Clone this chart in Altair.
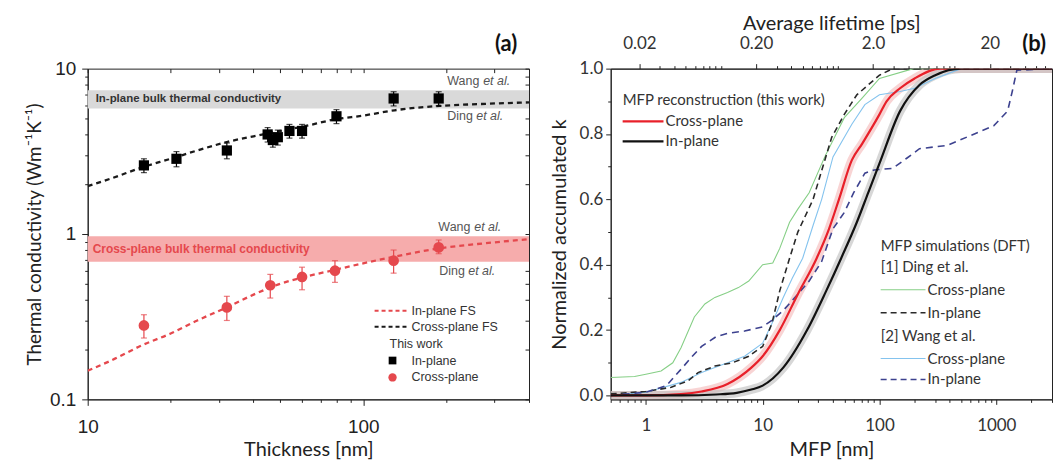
import altair as alt
import pandas as pd

# ---------------- Panel (a) data ----------------
thick_in = [16, 21, 32, 45, 47, 49, 54, 60, 80, 129, 188]
k_in = [2.6, 2.85, 3.2, 4.0, 3.7, 3.85, 4.2, 4.2, 5.15, 6.6, 6.6]
k_in_lo = [2.35, 2.55, 2.85, 3.6, 3.35, 3.45, 3.8, 3.8, 4.65, 5.95, 5.95]
k_in_hi = [2.85, 3.15, 3.55, 4.4, 4.05, 4.25, 4.6, 4.6, 5.65, 7.25, 7.25]

thick_cr = [16, 32, 46, 60, 79, 129, 188]
k_cr = [0.28, 0.36, 0.49, 0.55, 0.60, 0.69, 0.83]
k_cr_lo = [0.235, 0.30, 0.41, 0.46, 0.51, 0.58, 0.76]
k_cr_hi = [0.325, 0.42, 0.57, 0.63, 0.69, 0.80, 0.92]

fs_x = [10, 12, 16, 20, 25, 32, 40, 50, 60, 80, 100, 130, 190, 260, 400]
fs_black = [1.95, 2.15, 2.55, 2.85, 3.2, 3.6, 3.9, 4.2, 4.45, 4.95, 5.2, 5.6, 5.95, 6.1, 6.25]
fs_red = [0.149, 0.17, 0.215, 0.25, 0.3, 0.36, 0.43, 0.5, 0.545, 0.61, 0.665, 0.73, 0.82, 0.87, 0.93]

band_in = [5.75, 7.4]
band_cr = [0.68, 0.97]

# ---------------- Panel (b) data ----------------
mfp_red = [0.5, 1, 2, 3, 5, 8, 10, 14, 20, 29, 37, 45, 58, 71, 100, 115, 150, 200, 330, 3000]
k_red = [0.0, 0.0, 0.004, 0.012, 0.035, 0.085, 0.12, 0.2, 0.31, 0.42, 0.51, 0.6, 0.72, 0.77, 0.86, 0.9, 0.94, 0.97, 1.0, 1.0]

mfp_blk = [0.5, 2, 4, 6, 8, 10, 15, 24, 35, 47, 64, 80, 100, 150, 220, 300, 500, 3000]
k_blk = [0.0, 0.0, 0.003, 0.008, 0.018, 0.03, 0.085, 0.2, 0.32, 0.42, 0.53, 0.62, 0.71, 0.87, 0.95, 0.98, 1.0, 1.0]

mfp_dc = [0.5, 0.8, 1.0, 1.35, 1.7, 2.0, 2.6, 3.2, 3.9, 5, 6.2, 7.6, 10, 12.2, 14, 17, 20, 25, 34, 50, 71, 100, 195, 3000]
k_dc = [0.055, 0.058, 0.065, 0.075, 0.1, 0.146, 0.24, 0.28, 0.30, 0.315, 0.33, 0.35, 0.40, 0.405, 0.45, 0.53, 0.57, 0.62, 0.73, 0.85, 0.91, 0.97, 1.0, 1.0]

mfp_di = [0.5, 1, 1.65, 2.3, 2.8, 3.9, 5.5, 7.6, 10, 12, 14, 17, 20, 27, 39, 50, 64, 80, 100, 130, 3000]
k_di = [0.005, 0.012, 0.025, 0.045, 0.07, 0.09, 0.10, 0.12, 0.15, 0.22, 0.32, 0.42, 0.5, 0.6, 0.79, 0.86, 0.92, 0.95, 0.98, 1.0, 1.0]

mfp_wc = [0.5, 1, 2, 3, 5, 7, 10, 12, 15, 18, 22, 27, 32, 40, 58, 75, 100, 150, 200, 300, 500, 3000]
k_wc = [0.0, 0.01, 0.04, 0.07, 0.1, 0.12, 0.16, 0.22, 0.3, 0.36, 0.42, 0.52, 0.6, 0.73, 0.83, 0.89, 0.92, 0.93, 0.94, 0.97, 1.0, 1.0]

mfp_wi = [0.5, 1, 1.5, 2, 2.5, 3, 4, 5, 7, 10, 12, 15, 20, 25, 32, 40, 50, 60, 75, 90, 130, 170, 220, 380, 600, 950, 1250, 1370, 1500, 3000]
k_wi = [0.0, 0.01, 0.03, 0.08, 0.12, 0.15, 0.18, 0.19, 0.197, 0.21, 0.23, 0.26, 0.31, 0.35, 0.41, 0.51, 0.56, 0.62, 0.68, 0.69, 0.695, 0.725, 0.755, 0.765, 0.795, 0.825, 0.87, 0.93, 0.995, 1.0]

# tick values
x1_ticks = [10, 20, 30, 40, 50, 60, 70, 80, 90, 100, 200, 300, 400]
y1_ticks = [0.1, 0.2, 0.3, 0.4, 0.5, 0.6, 0.7, 0.8, 0.9, 1, 2, 3, 4, 5, 6, 7, 8, 9, 10]
x2_ticks = [0.5, 0.6, 0.7, 0.8, 0.9, 1, 2, 3, 4, 5, 6, 7, 8, 9, 10, 20, 30, 40, 50, 60, 70, 80, 90,
            100, 200, 300, 400, 500, 600, 700, 800, 900, 1000, 2000, 3000]
y2_ticks = [0, 0.1, 0.2, 0.3, 0.4, 0.5, 0.6, 0.7, 0.8, 0.9, 1.0]
t_ticks = [0.02, 0.03, 0.04, 0.05, 0.06, 0.07, 0.08, 0.09, 0.1, 0.2, 0.3, 0.4, 0.5, 0.6, 0.7, 0.8, 0.9,
           1, 2, 3, 4, 5, 6, 7, 8, 9, 10, 20, 30, 40, 50, 60]
t_factor = 44.0  # nm per ps

W, H = 443, 332
INK = "#222222"
ONE = pd.DataFrame({"a": [0]})


def txt(s, x, y, size, color="#333333", font="Liberation Sans", align="left",
        weight="normal", style="normal", baseline="middle"):
    return alt.Chart(ONE).mark_text(text=s, fontSize=size, color=color, font=font, align=align,
                                    fontWeight=weight, fontStyle=style, baseline=baseline).encode(
        x=alt.value(x), y=alt.value(y))


def seg(x1, x2, y, color, width, dash=None):
    kw = dict(color=color, strokeWidth=width)
    if dash:
        kw["strokeDash"] = dash
    return alt.Chart(ONE).mark_rule(**kw).encode(x=alt.value(x1), x2=alt.value(x2), y=alt.value(y))


def cond_size(major, big, small):
    test = "indexof(" + str(major) + ", datum.value) >= 0"
    return {"condition": {"test": test, "value": big}, "value": small}


# ================= Panel (a) =================
xs1 = alt.Scale(type="log", domain=[10, 400])
ys1 = alt.Scale(type="log", domain=[0.1, 10])

ax1 = alt.Axis(title="Thickness [nm]", values=x1_ticks,
               labelExpr="indexof([10,100], datum.value) >= 0 ? format(datum.value, 'd') : ''",
               tickSize=cond_size([10, 100], 6, 3), labelFont="Liberation Sans", labelFontSize=19,
               titleFont="Lato", titleFontSize=20, titleFontWeight="normal", labelPadding=12,
               titlePadding=3, grid=False, labelFlush=False, domainColor=INK, tickColor=INK,
               labelColor=INK, titleColor=INK)
ay1 = alt.Axis(title="Thermal conductivity (Wm\u207b\u00b9K\u207b\u00b9)", values=y1_ticks,
               labelExpr="datum.value == 0.1 ? '0.1' : datum.value == 1 ? '1' : datum.value == 10 ? '10' : ''",
               tickSize=cond_size([0.1, 1, 10], 6, 3), labelFont="Liberation Sans", labelFontSize=19,
               titleFont="Lato", titleFontSize=19, titleFontWeight="normal", labelPadding=6,
               titlePadding=5, grid=False, labelFlush=False, domainColor=INK, tickColor=INK,
               labelColor=INK, titleColor=INK)


def X1(field):
    return alt.X(field, type="quantitative", scale=xs1, axis=ax1)


def Y1(field):
    return alt.Y(field, type="quantitative", scale=ys1, axis=ay1)


df_in = pd.DataFrame({"t": thick_in, "k": k_in, "lo": k_in_lo, "hi": k_in_hi})
df_cr = pd.DataFrame({"t": thick_cr, "k": k_cr, "lo": k_cr_lo, "hi": k_cr_hi})
df_fs = pd.DataFrame({"t": fs_x, "kb": fs_black, "kr": fs_red})
df_band_in = pd.DataFrame({"lo": [band_in[0]], "hi": [band_in[1]]})
df_band_cr = pd.DataFrame({"lo": [band_cr[0]], "hi": [band_cr[1]]})

band1 = alt.Chart(df_band_in).mark_rect(color="#d9d9d9").encode(
    x=alt.X(datum=10, type="quantitative", scale=xs1, axis=ax1), x2=alt.datum(400),
    y=Y1("lo"), y2="hi")
band2 = alt.Chart(df_band_cr).mark_rect(color="#f6acac").encode(
    x=alt.X(datum=10, type="quantitative", scale=xs1, axis=ax1), x2=alt.datum(400),
    y=Y1("lo"), y2="hi")

line_b = alt.Chart(df_fs).mark_line(color="#1a1a1a", strokeWidth=2.3, strokeDash=[5, 4],
                                    interpolate="monotone", clip=True).encode(x=X1("t"), y=Y1("kb"))
line_r = alt.Chart(df_fs).mark_line(color="#e5484d", strokeWidth=2.3, strokeDash=[5, 4],
                                    interpolate="monotone", clip=True).encode(x=X1("t"), y=Y1("kr"))


def errs(df, color):
    base = alt.Chart(df)
    r = base.mark_rule(color=color, strokeWidth=1.2).encode(x=X1("t"), y=Y1("lo"), y2="hi")
    c1 = base.mark_tick(color=color, orient="horizontal", size=6, thickness=1.2).encode(x=X1("t"), y=Y1("lo"))
    c2 = base.mark_tick(color=color, orient="horizontal", size=6, thickness=1.2).encode(x=X1("t"), y=Y1("hi"))
    return [r, c1, c2]


pts_in = alt.Chart(df_in).mark_square(color="#000000", size=105, opacity=1).encode(x=X1("t"), y=Y1("k"))
pts_cr = alt.Chart(df_cr).mark_circle(color="#e5484d", size=115, opacity=1).encode(x=X1("t"), y=Y1("k"))

GR = "#555555"
ann_a = [
    txt("In-plane bulk thermal conductivity", 8, 30, 11.5, color="#333333", weight="bold"),
    txt("Cross-plane bulk thermal conductivity", 5, 181, 12, color="#e5484d", weight="bold"),
    txt("Wang", 361, 12, 12.5, color=GR), txt("et al.", 397, 12, 12.5, color=GR, style="italic"),
    txt("Ding", 361, 48, 12.5, color=GR), txt("et al.", 390, 48, 12.5, color=GR, style="italic"),
    txt("Wang", 352, 159, 12.5, color=GR), txt("et al.", 388, 159, 12.5, color=GR, style="italic"),
    txt("Ding", 353, 203, 12.5, color=GR), txt("et al.", 382, 203, 12.5, color=GR, style="italic"),
    txt("(a)", 420, -25, 22, color="#111111", font="Lato", align="center", weight="bold"),
    # legend
    seg(288, 323, 243, "#e5484d", 2, [4, 3]), txt("In-plane FS", 325, 243, 12.5),
    seg(288, 323, 259, "#1a1a1a", 2, [4, 3]), txt("Cross-plane FS", 325, 259, 12.5),
    txt("This work", 303, 276, 12.5),
    alt.Chart(ONE).mark_square(color="#000000", size=60, opacity=1).encode(x=alt.value(306), y=alt.value(293)),
    txt("In-plane", 325, 293, 12.5),
    alt.Chart(ONE).mark_circle(color="#e5484d", size=70, opacity=1).encode(x=alt.value(306), y=alt.value(310)),
    txt("Cross-plane", 325, 310, 12.5),
]

inner_a = alt.layer(band1, band2, line_b, line_r, *errs(df_in, "#000000"), pts_in,
                    *errs(df_cr, "#e5484d"), pts_cr, *ann_a)

mirror_a = alt.Chart(ONE).mark_point(opacity=0).encode(
    x=alt.X(datum=20, type="quantitative", scale=xs1,
            axis=alt.Axis(orient="top", values=x1_ticks, labels=False, tickSize=4, offset=-4,
                          domain=False, title=None, grid=False, tickColor=INK)),
    y=alt.Y(datum=1, type="quantitative", scale=ys1,
            axis=alt.Axis(orient="right", values=y1_ticks, labels=False, tickSize=4, offset=-4,
                          domain=False, title=None, grid=False, tickColor=INK)))

panel_a = alt.layer(inner_a, mirror_a).resolve_axis(x="independent", y="independent").properties(
    width=W, height=H)

# ================= Panel (b) =================
xs2 = alt.Scale(type="log", domain=[0.5, 3000])
ys2 = alt.Scale(domain=[-0.012, 1.0], zero=False, nice=False)

ax2 = alt.Axis(title="MFP [nm]", values=x2_ticks,
               labelExpr="indexof([1,10,100,1000], datum.value) >= 0 ? format(datum.value, 'd') : ''",
               tickSize=cond_size([1, 10, 100, 1000], 5, 3), labelFont="Lato", labelFontSize=17,
               titleFont="Lato", titleFontSize=20, titleFontWeight="normal", labelPadding=13,
               titlePadding=6, grid=False, labelFlush=False, domainColor=INK, tickColor=INK,
               labelColor="#333333", titleColor=INK)
ay2 = alt.Axis(title="Normalized accumulated k", values=y2_ticks,
               labelExpr="indexof([0,0.2,0.4,0.6,0.8,1], datum.value) >= 0 ? format(datum.value, '.1f') : ''",
               tickSize=cond_size([0, 0.2, 0.4, 0.6, 0.8, 1], 5, 3), labelFont="Lato", labelFontSize=17,
               titleFont="Lato", titleFontSize=20, titleFontWeight="normal", labelPadding=3,
               titlePadding=10, grid=False, labelFlush=False, domainColor=INK, tickColor=INK,
               labelColor="#333333", titleColor=INK)


def curve(xs, ks, color, width, dash=None, opacity=1.0, interp="monotone"):
    df = pd.DataFrame({"mfp": xs, "k": ks})
    kw = dict(color=color, strokeWidth=width, opacity=opacity, interpolate=interp, clip=True)
    if dash:
        kw["strokeDash"] = dash
    return alt.Chart(df).mark_line(**kw).encode(
        x=alt.X("mfp", type="quantitative", scale=xs2, axis=ax2),
        y=alt.Y("k", type="quantitative", scale=ys2, axis=ay2))


curves = [
    curve(mfp_red, k_red, "#f4b8b8", 9, opacity=0.6),
    curve(mfp_blk, k_blk, "#bdbdbd", 9, opacity=0.6),
    curve(mfp_dc, k_dc, "#86cf86", 1.1, interp="linear"),
    curve(mfp_wc, k_wc, "#84c3ee", 1.1, interp="linear"),
    curve(mfp_di, k_di, "#2a2a2a", 1.6, dash=[6, 4], interp="linear"),
    curve(mfp_wi, k_wi, "#3d428f", 1.6, dash=[7, 5], interp="linear"),
    curve(mfp_red, k_red, "#e8202a", 2.2),
    curve(mfp_blk, k_blk, "#111111", 2.2),
]

LF = 15
ann_b = [
    txt("MFP reconstruction (this work)", 12, 32, LF, font="Lato"),
    seg(12, 53, 53, "#e8202a", 2.2), txt("Cross-plane", 55, 53, LF, font="Lato"),
    seg(12, 53, 73, "#111111", 2.2), txt("In-plane", 55, 73, LF, font="Lato"),
    txt("MFP simulations (DFT)", 271, 178, LF, font="Lato"),
    txt("[1] Ding et al.", 271, 199, LF, font="Lato"),
    seg(271, 316, 222, "#86cf86", 1.1), txt("Cross-plane", 318, 222, LF, font="Lato"),
    seg(271, 316, 245, "#2a2a2a", 1.6, [6, 4]), txt("In-plane", 318, 245, LF, font="Lato"),
    txt("[2] Wang et al.", 271, 268, LF, font="Lato"),
    seg(271, 316, 291, "#84c3ee", 1.1), txt("Cross-plane", 318, 291, LF, font="Lato"),
    seg(271, 316, 312, "#3d428f", 1.6, [6, 4]), txt("In-plane", 318, 312, LF, font="Lato"),
    txt("(b)", 425, -25, 22, color="#111111", font="Lato", align="center", weight="bold"),
]

inner_b = alt.layer(*curves, *ann_b)

ts = alt.Scale(type="log", domain=[0.5 / t_factor, 3000 / t_factor])
top_b = alt.Chart(ONE).mark_point(opacity=0).encode(
    x=alt.X(datum=1, type="quantitative", scale=ts,
            axis=alt.Axis(orient="top", title="Average lifetime [ps]", values=t_ticks,
                          labelExpr="datum.value == 0.02 ? '0.02' : datum.value == 0.2 ? '0.20' : datum.value == 2 ? '2.0' : datum.value == 20 ? '20' : ''",
                          tickSize=cond_size([0.02, 0.2, 2, 20], 5, 3), labelFont="Lato",
                          labelFontSize=17, titleFont="Lato", titleFontSize=20,
                          titleFontWeight="normal", labelPadding=11, titlePadding=1, grid=False,
                          labelFlush=False, domainColor=INK, tickColor=INK, labelColor="#333333",
                          titleColor=INK)))

panel_b = alt.layer(inner_b, top_b).resolve_scale(x="independent").properties(width=W, height=H)

chart = alt.hconcat(panel_a, panel_b, spacing=82, bounds="flush").properties(
    padding={"left": 17, "top": 4, "right": 2, "bottom": 2}
).configure_view(stroke=INK, strokeWidth=1)

chart.save("out.html", embed_options={"renderer": "svg", "actions": False})
